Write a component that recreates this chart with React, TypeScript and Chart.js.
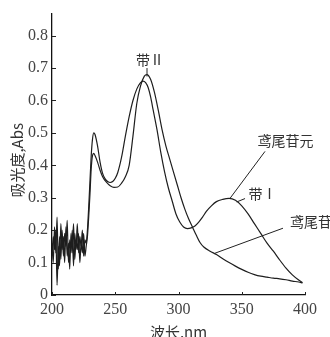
import { useEffect, useRef } from 'react';
import { Chart, registerables } from 'chart.js';

Chart.register(...registerables);

// Wavelengths (nm) of the noisy region, shared by both spectra
const NOISE_NM = [200, 201, 202, 203, 204, 205, 206, 207, 208, 209, 210, 211, 212, 213, 214, 215, 216, 217, 218, 219, 220, 221, 222, 223, 224, 225, 226, 227, 228];
const AGLYCONE_NOISE = [0.16, 0.10, 0.21, 0.13, 0.24, 0.08, 0.18, 0.11, 0.20, 0.12, 0.19, 0.15, 0.23, 0.10, 0.17, 0.13, 0.20, 0.09, 0.19, 0.14, 0.22, 0.13, 0.18, 0.15, 0.20, 0.12, 0.17, 0.16, 0.20];
const GLYCOSIDE_NOISE = [0.12, 0.18, 0.14, 0.20, 0.03, 0.15, 0.09, 0.22, 0.14, 0.18, 0.10, 0.21, 0.12, 0.16, 0.08, 0.19, 0.13, 0.22, 0.11, 0.17, 0.14, 0.19, 0.10, 0.16, 0.13, 0.19, 0.12, 0.15, 0.18];

// 鸢尾苷元 (with band I)
const AGLYCONE_NM = [229, 230, 231, 232, 233, 234, 236, 238, 240, 242, 244, 246, 248, 250, 252, 255, 258, 261, 264, 267, 270, 272, 274, 276, 278, 280, 283, 286, 289, 292, 295, 298, 301, 304, 307, 310, 313, 316, 319, 322, 326, 330, 335, 340, 345, 350, 355, 360, 365, 370, 375, 380, 385, 390, 395, 398];
const AGLYCONE_ABS = [0.27, 0.35, 0.43, 0.48, 0.50, 0.495, 0.46, 0.41, 0.375, 0.358, 0.35, 0.347, 0.35, 0.36, 0.378, 0.425, 0.49, 0.55, 0.60, 0.635, 0.655, 0.66, 0.655, 0.64, 0.61, 0.57, 0.51, 0.44, 0.38, 0.33, 0.29, 0.25, 0.225, 0.21, 0.205, 0.207, 0.213, 0.225, 0.24, 0.258, 0.275, 0.288, 0.295, 0.298, 0.292, 0.275, 0.25, 0.22, 0.19, 0.16, 0.135, 0.108, 0.083, 0.062, 0.046, 0.038];

// 鸢尾苷
const GLYCOSIDE_NM = [229, 230, 231, 232, 233, 234, 236, 238, 240, 243, 246, 249, 252, 255, 258, 261, 264, 267, 270, 273, 275, 278, 281, 284, 287, 290, 293, 296, 299, 302, 305, 308, 311, 314, 317, 320, 325, 330, 335, 340, 345, 350, 355, 360, 365, 370, 375, 380, 385, 390, 395, 398];
const GLYCOSIDE_ABS = [0.24, 0.31, 0.39, 0.43, 0.437, 0.43, 0.41, 0.385, 0.365, 0.348, 0.337, 0.332, 0.333, 0.345, 0.365, 0.40, 0.49, 0.59, 0.645, 0.675, 0.68, 0.665, 0.625, 0.57, 0.51, 0.46, 0.42, 0.38, 0.34, 0.30, 0.265, 0.235, 0.21, 0.185, 0.162, 0.148, 0.135, 0.125, 0.112, 0.10, 0.089, 0.079, 0.07, 0.063, 0.058, 0.055, 0.052, 0.05, 0.047, 0.043, 0.04, 0.037];

const X_TICKS = [200, 250, 300, 350, 400];
const Y_TICKS = [0, 0.1, 0.2, 0.3, 0.4, 0.5, 0.6, 0.7, 0.8];
const X_TITLE = '波长,nm';
const Y_TITLE = '吸光度,Abs';

// Callout labels, anchored in data space (nm, Abs)
const CALLOUT_TEXT = ['带Ⅱ', '鸢尾苷元', '带Ⅰ', '鸢尾苷'];
const CALLOUT_NM = [277.5, 384.6, 366.4, 388.1];
const CALLOUT_ABS = [0.726, 0.477, 0.314, 0.2255];
const CALLOUT_ALIGN = ['center', 'center', 'center', 'left'];
// Leader lines: [nm1, abs1, nm2, abs2]
const LEADERS = [
  [275.1, 0.70, 275.1, 0.674],
  [368.4, 0.443, 340.7, 0.298],
  [352.6, 0.2975, 346.0, 0.287],
  [382.6, 0.206, 328.9, 0.129],
];

const CJK = "'Noto Sans CJK SC', 'Noto Sans CJK JP', sans-serif";
const SERIF = "'Liberation Serif', 'DejaVu Serif', serif";

function series(noise: number[], nm: number[], abs: number[]) {
  return [
    ...NOISE_NM.map((x, i) => ({ x, y: noise[i] })),
    ...nm.map((x, i) => ({ x, y: abs[i] })),
  ];
}

const decorPlugin = {
  id: 'decor',
  afterDraw(chart: any) {
    const { ctx, chartArea, scales } = chart;
    const xs = scales.x;
    const ys = scales.y;
    ctx.save();
    ctx.strokeStyle = '#222';
    ctx.lineWidth = 1;
    // inward tick marks
    ys.ticks.forEach((t: any) => {
      const py = Math.round(ys.getPixelForValue(t.value)) + 0.5;
      ctx.beginPath();
      ctx.moveTo(chartArea.left, py);
      ctx.lineTo(chartArea.left + 4, py);
      ctx.stroke();
    });
    xs.ticks.forEach((t: any) => {
      const px = Math.round(xs.getPixelForValue(t.value)) + 0.5;
      ctx.beginPath();
      ctx.moveTo(px, chartArea.bottom);
      ctx.lineTo(px, chartArea.bottom - 3);
      ctx.stroke();
    });
    // leader lines
    LEADERS.forEach((l) => {
      ctx.beginPath();
      ctx.moveTo(xs.getPixelForValue(l[0]), ys.getPixelForValue(l[1]));
      ctx.lineTo(xs.getPixelForValue(l[2]), ys.getPixelForValue(l[3]));
      ctx.stroke();
    });
    // callout text
    ctx.fillStyle = '#333';
    ctx.font = `14px ${CJK}`;
    ctx.textBaseline = 'middle';
    CALLOUT_TEXT.forEach((txt, i) => {
      ctx.textAlign = CALLOUT_ALIGN[i];
      ctx.fillText(txt, xs.getPixelForValue(CALLOUT_NM[i]), ys.getPixelForValue(CALLOUT_ABS[i]));
    });
    // axis titles
    ctx.font = `15px ${CJK}`;
    ctx.textAlign = 'center';
    ctx.textBaseline = 'top';
    ctx.fillText(X_TITLE, (chartArea.left + chartArea.right) / 2, chartArea.bottom + 30);
    ctx.translate(17.5, (chartArea.top + chartArea.bottom) / 2 + 6);
    ctx.rotate(-Math.PI / 2);
    ctx.textBaseline = 'middle';
    ctx.fillText(Y_TITLE, 0, 0);
    ctx.restore();
  },
};

export default function App() {
  const canvasRef = useRef<HTMLCanvasElement | null>(null);

  useEffect(() => {
    const canvas = canvasRef.current;
    if (!canvas) return;
    const lineStyle = {
      borderColor: '#1e1e1e',
      borderWidth: 1.2,
      pointRadius: 0,
      fill: false,
      cubicInterpolationMode: 'monotone' as const,
    };
    const chart = new Chart(canvas, {
      type: 'line',
      data: {
        datasets: [
          { label: '鸢尾苷元', data: series(AGLYCONE_NOISE, AGLYCONE_NM, AGLYCONE_ABS), ...lineStyle },
          { label: '鸢尾苷', data: series(GLYCOSIDE_NOISE, GLYCOSIDE_NM, GLYCOSIDE_ABS), ...lineStyle },
        ],
      },
      options: {
        animation: false,
        responsive: true,
        maintainAspectRatio: false,
        layout: { padding: { top: 13, right: 25, left: 0, bottom: 0 } },
        plugins: { legend: { display: false }, tooltip: { enabled: false } },
        scales: {
          x: {
            type: 'linear',
            min: 200,
            max: 400,
            afterBuildTicks: (s: any) => { s.ticks = X_TICKS.map((v) => ({ value: v })); },
            afterFit: (s: any) => { s.height = 42; },
            grid: { display: true, drawOnChartArea: false, drawTicks: false },
            border: { display: true, color: '#111', width: 1.3 },
            ticks: {
              padding: 5,
              color: '#444',
              font: { family: SERIF, size: 16 },
              maxRotation: 0,
              autoSkip: false,
            },
          },
          y: {
            type: 'linear',
            min: 0,
            max: 0.868,
            afterBuildTicks: (s: any) => { s.ticks = Y_TICKS.map((v) => ({ value: v })); },
            afterFit: (s: any) => { s.width = 52; },
            grid: { display: true, drawOnChartArea: false, drawTicks: false },
            border: { display: true, color: '#111', width: 1.3 },
            ticks: {
              padding: 4,
              color: '#444',
              font: { family: SERIF, size: 16 },
              autoSkip: false,
              callback: (v: any) => (Number(v) === 0 ? '0' : Number(v).toFixed(1)),
            },
          },
        },
      },
      plugins: [decorPlugin],
    });
    return () => chart.destroy();
  }, []);

  return (
    <div style={{ position: 'absolute', left: 0, top: 0, width: 330, height: 337, background: '#fff' }}>
      <canvas ref={canvasRef} />
    </div>
  );
}
